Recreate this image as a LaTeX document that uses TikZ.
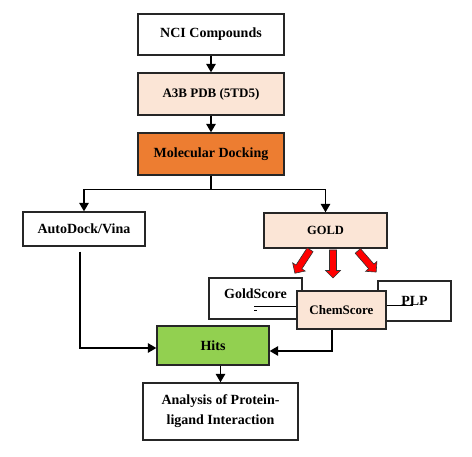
\documentclass[tikz,border=0pt]{standalone}
\usepackage{fontspec}
\setmainfont{Liberation Serif}
\usetikzlibrary{arrows.meta}
\definecolor{peach}{HTML}{FBE5D6}
\definecolor{dockorange}{HTML}{ED7D31}
\definecolor{hitgreen}{HTML}{92D050}

\begin{document}
\begin{tikzpicture}[x=1pt, y=-1pt, every node/.style={font=\bfseries\fontsize{14}{20}\selectfont}, >={Triangle[length=3mm,width=3.4mm]},
	box/.style={draw=black!85, line width=1.4pt, inner sep=0pt, align=center},
	link/.style={line width=1.2pt},
	redarrow/.style={draw=black!80, fill=red, line width=0.6pt, line join=miter}]
	\useasboundingbox[fill=white] (0,0) rectangle (472,457);
	\node[box, minimum width=146pt, minimum height=41pt] (ncicomp) at (211,34.5) {NCI Compounds};
	\node[box, fill=peach, minimum width=146pt, minimum height=42pt, font=\bfseries\fontsize{13}{16}\selectfont] (a3b) at (211,94) {A3B PDB (5TD5)};
	\node[box, fill=dockorange, minimum width=146pt, minimum height=42pt] (docking) at (211,154) {Molecular Docking};
	\node[box, minimum width=122pt, minimum height=34pt] (autodock) at (84,229) {AutoDock/Vina};
	\node[box, fill=peach, minimum width=123pt, minimum height=35pt, font=\bfseries\fontsize{12.5}{15}\selectfont] (gold) at (325.5,230.5) {GOLD};
	\node[box, minimum width=93pt, minimum height=41pt, text depth=10pt] (goldscore) at (255.5,298.5) {GoldScore};
	\node[box, minimum width=73pt, minimum height=40pt] (plp) at (414.5,301) {PLP};
	\node[box, fill=peach, minimum width=89pt, minimum height=38pt, font=\bfseries\fontsize{13}{16}\selectfont] (chemscore) at (341.5,310) {ChemScore};
	\node[box, fill=hitgreen, minimum width=112pt, minimum height=39pt] (hits) at (213,345.5) {Hits};
	\node[box, minimum width=155pt, minimum height=57pt] (analysis) at (220.5,411.5) {Analysis of Protein-\\ligand Interaction};
	\foreach \ang/\px/\py in {237/302.5/261.5, 270/333/264, 311/367/261.5}
		\draw[redarrow, shift={(\px,\py)}, rotate=\ang] (-14,-3.5) -- (6.5,-3.5) -- (6.5,-7.5) -- (14,0) -- (6.5,7.5) -- (6.5,3.5) -- (-14,3.5) -- cycle;
	\draw[link,->] (ncicomp) -- (a3b);
	\draw[link,->] (a3b) -- (docking);
	\draw[link] (docking.south) -- ++(0,14) coordinate (split);
	\draw[link,->] (split) -| (autodock);
	\draw[link,->] (split) -| (gold);
	\draw[link,->,shorten <=5pt] ([xshift=-4pt]autodock.south) |- ([yshift=-2.5pt]hits.west);
	\draw[link,->] ([xshift=-9.5pt]chemscore.south) |- ([yshift=-5.5pt]hits.east);
	\draw[link,->] (hits.south -| analysis.north) -- (analysis.north);
	\draw[line width=1pt] ([yshift=3pt]chemscore.west) -- ++(-42,0);
	\draw[line width=1pt] ([yshift=4pt]chemscore.east) -- ++(26,0);
	\draw[line width=1pt] (254,311) -- (257,311);
\end{tikzpicture}
\end{document}
